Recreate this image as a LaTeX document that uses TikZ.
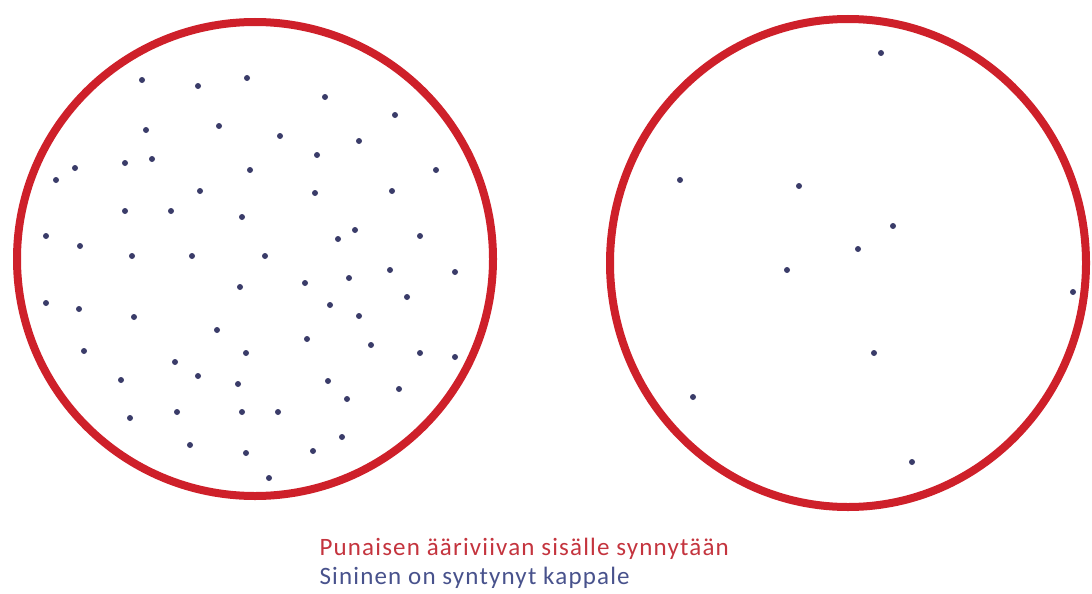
\documentclass[tikz,border=0pt]{standalone}
\usepackage{fontspec}
\setmainfont{Carlito}[LetterSpace=4.7]
\usepackage{tikz}
\definecolor{cRim}{RGB}{206,32,42}
\definecolor{cDot}{RGB}{58,60,105}
\definecolor{cTxtA}{RGB}{196,52,62}
\definecolor{cTxtB}{RGB}{72,82,140}

\begin{document}
\begin{tikzpicture}[x=1pt, y=-1pt,
    rim/.style={draw=cRim, line width=8pt},
    body/.style={fill=cDot},
    caption/.style={anchor=base west, font=\fontsize{25}{29}\selectfont}]
    \useasboundingbox (0,0) rectangle (1092,594);

    \draw[rim] (255,259) ellipse (238pt and 237pt);
    \draw[rim] (848,263) ellipse (238pt and 244pt);

    \foreach \x/\y in {142/80, 198/86, 247/78, 325/97, 395/115, 146/130, 219/126,
        280/136, 359/141, 317/155, 75/168, 56/180, 125/163, 152/159, 250/170,
        436/170, 200/191, 315/193, 392/191, 125/211, 171/211, 242/217, 46/236,
        80/246, 132/256, 192/256, 265/256, 355/230, 338/239, 420/236, 240/287,
        46/303, 79/309, 134/317, 217/330, 84/351, 175/362, 246/353, 121/380,
        198/376, 238/384, 130/418, 177/412, 242/412, 190/445, 246/453, 305/283,
        349/278, 390/270, 455/272, 330/305, 359/316, 407/297, 307/339, 371/345,
        420/353, 455/357, 328/381, 399/389, 347/399, 278/412, 342/437, 313/451,
        269/478}
        \fill[body] (\x,\y) circle (3pt);

    \foreach \x/\y in {881/53, 680/180, 799/186, 893/226, 858/249, 787/270,
        1073/292, 874/353, 693/397, 912/462}
        \fill[body] (\x,\y) circle (3pt);

    \node[caption, text=cTxtA] (rimtext) at (316,555) {Punaisen ääriviivan sisälle synnytään};
    \node[caption, text=cTxtB] (dottext) at (316,584) {Sininen on syntynyt kappale};
\end{tikzpicture}
\end{document}
